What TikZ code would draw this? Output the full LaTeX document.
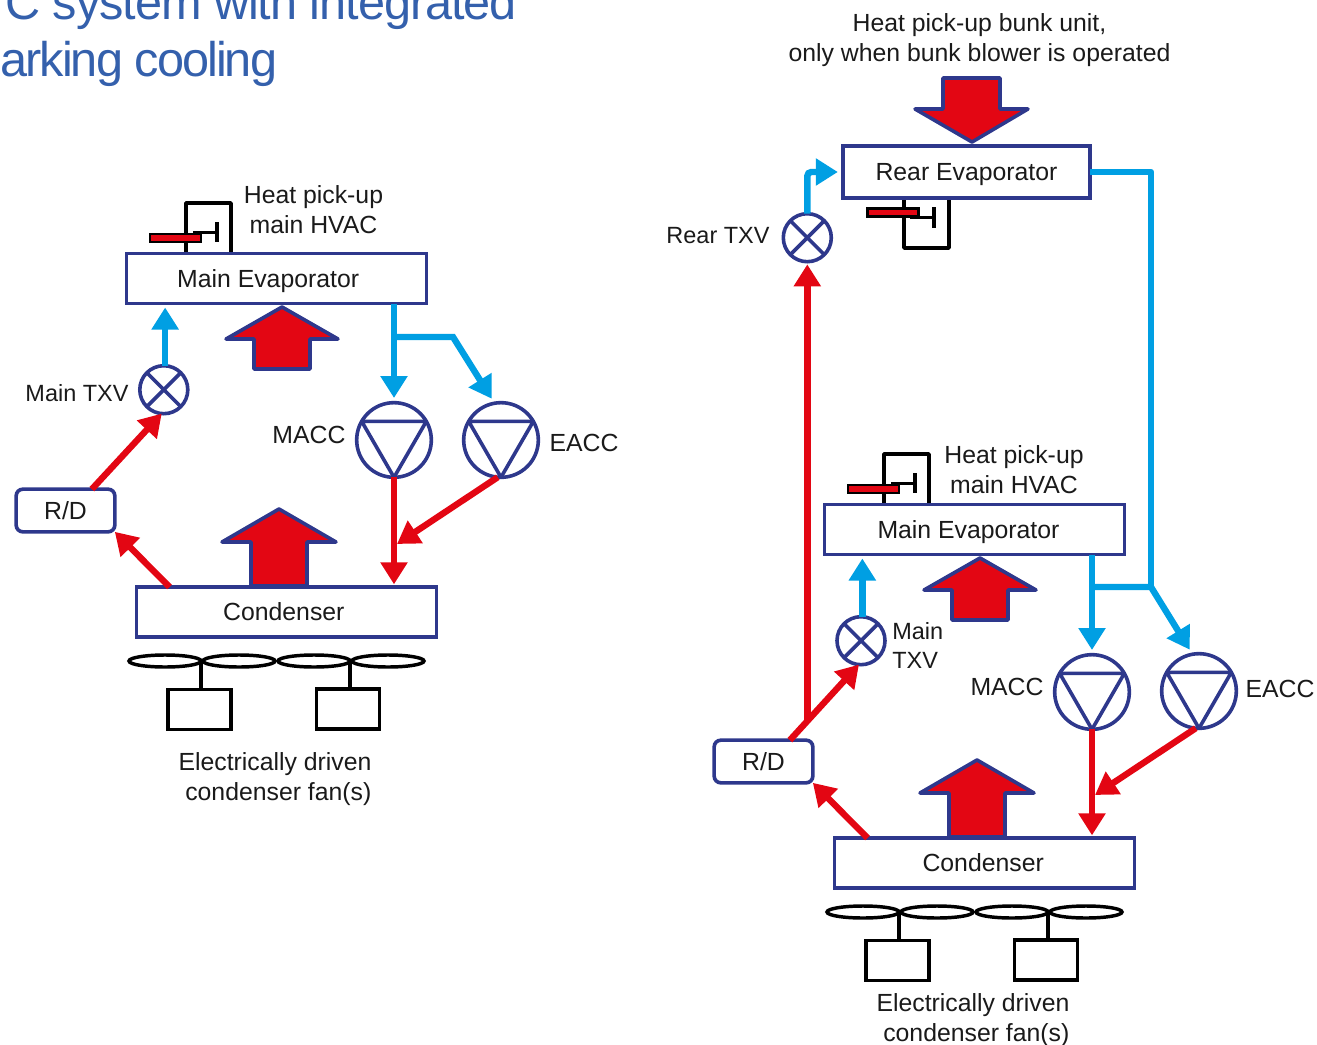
\documentclass[tikz,border=0pt]{standalone}
\usepackage{fontspec}
\setmainfont{Liberation Sans}
\usetikzlibrary{arrows.meta,shapes.geometric}
\definecolor{boxnavy}{RGB}{46,56,140}
\definecolor{hotred}{RGB}{227,6,19}
\definecolor{coolblue}{RGB}{0,159,227}
\definecolor{titleblue}{RGB}{52,96,172}
\definecolor{inkgrey}{RGB}{26,26,26}
\tikzset{
  every node/.style={font=\fontsize{18.6}{22.2}\selectfont,text=inkgrey},
  unitbox/.style={draw=boxnavy,line width=2.7pt,fill=white,minimum width=225pt,minimum height=37.5pt,inner sep=0pt,outer sep=0pt,text depth=0pt},
  rdbox/.style={draw=boxnavy,line width=2.7pt,fill=white,rounded corners=5pt,minimum width=74pt,minimum height=32pt,inner sep=0pt,outer sep=0pt},
  txvalve/.style={circle,draw=boxnavy,line width=2.7pt,fill=white,minimum size=36pt,inner sep=0pt,outer sep=0pt},
  compressor/.style={circle,draw=boxnavy,line width=2.7pt,fill=white,minimum size=56pt,inner sep=0pt,outer sep=0pt},
  innerline/.style={draw=boxnavy,line width=2.7pt,line join=round},
  heatarrow/.style={draw=boxnavy,fill=hotred,line width=2.7pt,line join=round},
  hotflow/.style={draw=hotred,line width=4.8pt,-{Triangle[length=16.5pt,width=19.5pt]}},
  coolflow/.style={draw=coolblue,line width=4.8pt,-{Triangle[length=16.5pt,width=19.5pt]}},
  coolpipe/.style={draw=coolblue,line width=4.8pt,line join=round},
  blackline/.style={draw=black,line width=2.6pt,line join=round},
  damperbar/.style={draw=black,fill=hotred,line width=2.2pt},
  fanblade/.style={ellipse,draw=black,line width=2.6pt,minimum width=54pt,minimum height=9pt,inner sep=0pt,outer sep=0pt},
  fanmotor/.style={draw=black,line width=2.6pt,fill=white,minimum width=47pt,minimum height=30pt,inner sep=0pt,outer sep=0pt},
  txvtext/.style={font=\fontsize{17.6}{22.2}\selectfont},
  titletext/.style={font=\fontsize{36.5}{40}\selectfont,text=titleblue,inner sep=0pt,anchor=base west}
}
\begin{document}
\begin{tikzpicture}[x=0.75pt,y=0.75pt,yscale=-1]
\useasboundingbox (0,0) rectangle (1317,1045);

%Title
\node[titletext] (titleA) at (5,20) {\addfontfeature{LetterSpace=-2.2}C system with integrated};
\node[titletext] (titleB) at (0,77) {\addfontfeature{LetterSpace=-4}arking cooling};

%Left diagram: heat arrows
\draw[heatarrow] (282,307) -- ++(56,32) -- ++(-28,0) -- ++(0,30) -- ++(-56,0) -- ++(0,-30) -- ++(-28,0) -- cycle;
\draw[heatarrow] (279,509) -- ++(57,33) -- ++(-29,0) -- ++(0,44) -- ++(-56,0) -- ++(0,-44) -- ++(-29,0) -- cycle;
%Left diagram: damper housing
\draw[blackline] (186,252) -- (186,203) -- (231,203) -- (231,252);
\draw[damperbar] (150,234) rectangle (201,242);
\draw[blackline] (193,232.5) -- (217,232.5) (217,222) -- (217,242);
%Left diagram: units
\node[unitbox] (evapL) at (276.5,278.5) {Main Evaporator\hspace*{12.5pt}};
\node[unitbox] (condL) at (286.5,612) {Condenser\hspace*{4pt}};
\node[rdbox] (rdL) at (65.5,510.5) {R/D};
\node[txvalve] (txvL) at (163.8,389.7) {};
\draw[innerline] (txvL.45) -- (txvL.225) (txvL.135) -- (txvL.315);
\node[compressor] (maccL) at (394,440) {};
\draw[innerline] (maccL.30) -- (maccL.150) -- (maccL.270) -- cycle;
\node[compressor] (eaccL) at (501,440) {};
\draw[innerline] (eaccL.30) -- (eaccL.150) -- (eaccL.270) -- cycle;
%Left diagram: pipes
\coordinate (teeL) at (maccL.north |- 0,337);
\coordinate (joinL) at (397,544);
\draw[coolflow,shorten >=3.5pt] (maccL.north |- evapL.south) -- (maccL.north);
\draw[coolflow,shorten >=4pt] (teeL) -- ++(59,0) -- (eaccL.100);
\draw[coolflow,shorten >=3pt] ([xshift=1pt]txvL.north) -- ([xshift=1pt]txvL.north |- evapL.south);
\draw[hotflow] (rdL.39) -- (txvL.265);
\draw[hotflow] ([xshift=24.75pt]condL.north west) -- (rdL.south east);
\draw[hotflow,shorten >=2pt] (maccL.south) -- (maccL.south |- condL.north);
\draw[hotflow] (eaccL.265) -- (joinL);
%Left diagram: fans
\node[fanblade] (fanLa) at (165,661) {};
\node[fanblade] (fanLb) at (239,661) {};
\node[fanblade] (fanLc) at (314,661) {};
\node[fanblade] (fanLd) at (388,661) {};
\node[fanmotor] (motorLa) at (199.5,709.5) {};
\node[fanmotor] (motorLb) at (348,709) {};
\draw[blackline] (fanLa.east) -- (fanLa.east |- motorLa.north);
\draw[blackline] (fanLc.east) -- (fanLc.east |- motorLb.north);
%Left diagram: labels
\node[align=center] (heatL) at (313.5,209.5) {Heat pick-up\\main HVAC};
\node[txvtext] (txvtextL) at (77,393) {Main TXV};
\node (macctextL) at (309,435) {MACC};
\node (eacctextL) at (584,443) {EACC};
\node[align=center] (fantextL) at (275,779) {Electrically driven\\\hspace*{5pt}condenser fan(s)};

%Right diagram: heat arrows
\draw[heatarrow] (972,142) -- ++(56,-33) -- ++(-28,0) -- ++(0,-31) -- ++(-57,0) -- ++(0,31) -- ++(-28,0) -- cycle;
\draw[heatarrow] (980,558) -- ++(56,32) -- ++(-28,0) -- ++(0,30) -- ++(-56,0) -- ++(0,-30) -- ++(-28,0) -- cycle;
\draw[heatarrow] (977,760) -- ++(57,33) -- ++(-29,0) -- ++(0,44) -- ++(-56,0) -- ++(0,-44) -- ++(-29,0) -- cycle;
%Right diagram: damper housings
\draw[blackline] (904,198) -- (904,248) -- (949,248) -- (949,198);
\draw[damperbar] (867.5,208.5) rectangle (918.5,216.5);
\draw[blackline] (910,217.5) -- (934,217.5) (934,207.5) -- (934,227.5);
\draw[blackline] (884,503) -- (884,454) -- (929,454) -- (929,503);
\draw[damperbar] (848,485) rectangle (899,493);
\draw[blackline] (891,483.5) -- (915,483.5) (915,473) -- (915,493);
%Right diagram: units
\node[unitbox,minimum width=185pt,minimum height=39pt] (evapR) at (966.5,172) {Rear Evaporator};
\node[unitbox] (evapM) at (974.5,529.5) {Main Evaporator\hspace*{9pt}};
\node[unitbox] (condR) at (984.5,863) {Condenser\hspace*{2pt}};
\node[rdbox] (rdR) at (763.5,761.5) {R/D};
\node[txvalve] (txvR) at (807.3,237.7) {};
\draw[innerline] (txvR.45) -- (txvR.225) (txvR.135) -- (txvR.315);
\node[txvalve] (txvM) at (861,640.7) {};
\draw[innerline] (txvM.45) -- (txvM.225) (txvM.135) -- (txvM.315);
\node[compressor] (maccR) at (1092,692) {};
\draw[innerline] (maccR.30) -- (maccR.150) -- (maccR.270) -- cycle;
\node[compressor] (eaccR) at (1199,691) {};
\draw[innerline] (eaccR.30) -- (eaccR.150) -- (eaccR.270) -- cycle;
%Right diagram: pipes
\coordinate (teeR) at (maccR.north |- 0,587);
\coordinate (busR) at (1151,587);
\coordinate (joinR) at (1095,795);
\coordinate (riserR) at (txvR.south |- 0,722);
\draw[coolpipe] (evapR.east) -- (busR |- evapR.east) -- (busR);
\draw[coolflow,shorten >=3.5pt] (maccR.north |- evapM.south) -- (maccR.north);
\draw[coolflow,shorten >=4pt] (teeR) -- (busR) -- (eaccR.100);
\draw[coolflow,shorten >=3pt] ([xshift=1pt]txvM.north) -- ([xshift=1pt]txvM.north |- evapM.south);
\draw[coolflow,shorten >=4pt,rounded corners=3pt] (txvR.north) -- (txvR.north |- evapR.west) -- (evapR.west);
\draw[hotflow] (rdR.39) -- (txvM.265);
\draw[hotflow] ([xshift=24.75pt]condR.north west) -- (rdR.south east);
\draw[hotflow,shorten >=2pt] (riserR) -- (txvR.south);
\draw[hotflow,shorten >=2pt] (maccR.south) -- (maccR.south |- condR.north);
\draw[hotflow] (eaccR.265) -- (joinR);
%Right diagram: fans
\node[fanblade] (fanRa) at (863,912) {};
\node[fanblade] (fanRb) at (937,912) {};
\node[fanblade] (fanRc) at (1012,912) {};
\node[fanblade] (fanRd) at (1086,912) {};
\node[fanmotor] (motorRa) at (897.5,960.5) {};
\node[fanmotor] (motorRb) at (1046,960) {};
\draw[blackline] (fanRa.east) -- (fanRa.east |- motorRa.north);
\draw[blackline] (fanRc.east) -- (fanRc.east |- motorRb.north);
%Right diagram: labels
\node[align=center] (heatR) at (979.5,40) {Heat pick-up bunk unit,\\only when bunk blower is operated};
\node[align=center] (heatM) at (1014,469.5) {Heat pick-up\\main HVAC};
\node[txvtext] (txvtextR) at (718,236) {Rear TXV};
\node[txvtext,align=left,anchor=west,inner sep=0pt] (txvtextM) at (892,645.5) {Main\\TXV};
\node (macctextR) at (1007,687) {MACC};
\node (eacctextR) at (1280,689) {EACC};
\node[align=center] (fantextR) at (973,1020) {Electrically driven\\\hspace*{5pt}condenser fan(s)};

\end{tikzpicture}
\end{document}
